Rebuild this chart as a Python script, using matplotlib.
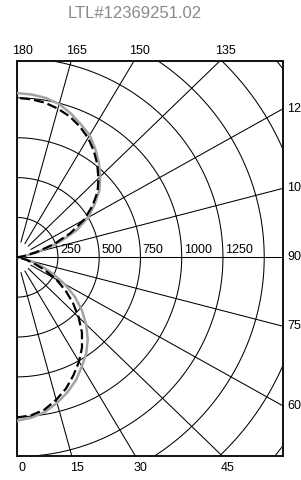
import numpy as np
import matplotlib
matplotlib.use("Agg")
import matplotlib.pyplot as plt

plt.rcParams['font.family'] = ['Liberation Sans', 'DejaVu Sans']

title = "LTL#12369251.02"

# polar angles (deg), 0 = straight down, 180 = straight up
angles = list(range(0, 181, 5))

# candela values
gray_cd = [1025, 1010, 985, 945, 900, 850, 790, 735, 670, 595,
           515, 430, 335, 240, 155, 85, 35, 10, 0,
           15, 55, 140, 270, 400, 500, 575, 655, 715,
           775, 830, 885, 920, 960, 995, 1015, 1025, 1030]
dash_cd = [1005, 995, 970, 925, 875, 815, 755, 690, 615, 530,
           445, 360, 275, 185, 110, 60, 25, 5, 0,
           10, 45, 120, 240, 360, 470, 560, 640, 700,
           760, 815, 865, 905, 940, 965, 985, 995, 1000]

ring_values = [250, 500, 750, 1000, 1250, 1500, 1750, 2000]
ring_labels = [250, 500, 750, 1000, 1250]
spoke_angles = list(range(0, 181, 15))
bottom_ticks = [0, 15, 30, 45]
right_ticks = [60, 75, 90, 105, 120]
top_ticks = [180, 165, 150, 135]

W, H = 301, 480
fig = plt.figure(figsize=(W / 100, H / 100), dpi=100)
x0, x1, y0, y1 = 16.7, 282.7, 60.7, 456.0
ax = fig.add_axes([x0 / W, 1 - y1 / H, (x1 - x0) / W, (y1 - y0) / H])

xmax = 1612.0
ymin, ymax = -1246.0, 1233.0
ax.set_xlim(0, xmax)
ax.set_ylim(ymin, ymax)
ax.set_xticks([])
ax.set_yticks([])
for s in ax.spines.values():
    s.set_linewidth(1.4)
    s.set_color('#111111')

# grid rings
t = np.radians(np.linspace(0, 180, 361))
for r in ring_values:
    ax.plot(r * np.sin(t), -r * np.cos(t), color='black', lw=0.75, zorder=1)

# spokes
for a in spoke_angles:
    th = np.radians(a)
    r0 = 0 if a in (0, 90, 180) else 100
    ax.plot([r0 * np.sin(th), 4000 * np.sin(th)],
            [-r0 * np.cos(th), -4000 * np.cos(th)],
            color='black', lw=0.75, zorder=1)

# ring labels
for r in ring_labels:
    ax.annotate(str(r), xy=(r, 0), xytext=(1.5, 1.2), textcoords='offset points',
                ha='left', va='bottom', fontsize=9, annotation_clip=False)

# curves
th = np.radians(angles)
g = np.array(gray_cd)
d = np.array(dash_cd)
ax.plot(g * np.sin(th), -g * np.cos(th), color='#a3a3a3', lw=1.8, zorder=3)
ax.plot(d * np.sin(th), -d * np.cos(th), color='black', lw=1.6, zorder=4,
        dashes=(4.5, 1.8))

# angle labels around the frame
for a in bottom_ticks:
    xh = -ymin * np.tan(np.radians(a))
    ax.annotate(str(a), xy=(xh, ymin), xytext=(4, -4), textcoords='offset points',
                ha='center', va='top', fontsize=9, annotation_clip=False)
for a in top_ticks:
    xh = ymax * np.tan(np.radians(180 - a))
    ax.annotate(str(a), xy=(xh, ymax), xytext=(4, 2.5), textcoords='offset points',
                ha='center', va='bottom', fontsize=9, annotation_clip=False)
for a in right_ticks:
    yh = -xmax / np.tan(np.radians(a))
    ax.annotate(str(a), xy=(xmax, yh), xytext=(3.5, 0), textcoords='offset points',
                ha='left', va='center', fontsize=9, annotation_clip=False)

fig.text(135 / W, 1 - 13 / H, title, ha='center', va='center',
         fontsize=12, color='#8a8a8a')

fig.savefig('out.png', dpi=100)
